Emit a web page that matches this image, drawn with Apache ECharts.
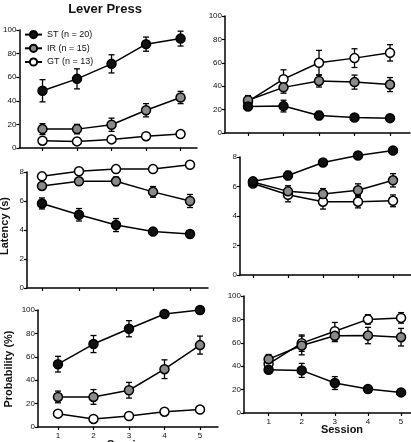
<!DOCTYPE html>
<html><head><meta charset="utf-8">
<script src="https://cdn.jsdelivr.net/npm/echarts@6/dist/echarts.min.js"></script>
<style>html,body{margin:0;padding:0;background:#fff}#c{width:411px;height:442px}</style>
</head><body><div id="c"></div>
<script>
const sessions = [1, 2, 3, 4, 5];
const groupNames = ['ST (n = 20)', 'IR (n = 15)', 'GT (n = 13)'];

// Panel A: Lever Press contacts (top-left)
const lpContactST = [48.5, 58.6, 71.3, 88, 92.7];
const lpContactSTErr = [9.4, 8.5, 7.7, 6, 6.3];
const lpContactIR = [16, 16, 19.7, 32, 42.8];
const lpContactIRErr = [4.6, 4, 5.6, 5.6, 5.2];
const lpContactGT = [6.2, 5.6, 7.3, 10, 11.8];
const lpContactGTErr = [1.5, 1.5, 1.5, 1.5, 1.5];

// Panel B: magazine entries (top-right)
const mgContactST = [22.7, 23, 15, 13.2, 12.7];
const mgContactSTErr = [3, 5, 3.5, 1, 1];
const mgContactIR = [28, 39, 44.5, 43.5, 41.4];
const mgContactIRErr = [4, 5, 5.2, 6, 6];
const mgContactGT = [27, 46, 60, 64, 68.5];
const mgContactGTErr = [3, 8, 10.6, 8, 7];

// Panel C: Latency (s) lever (middle-left)
const lpLatST = [5.83, 5.05, 4.34, 3.89, 3.73];
const lpLatSTErr = [0.38, 0.43, 0.45, 0.2, 0.2];
const lpLatIR = [7.04, 7.36, 7.36, 6.63, 6.0];
const lpLatIRErr = [0.1, 0.2, 0.3, 0.37, 0.45];
const lpLatGT = [7.7, 8.05, 8.2, 8.2, 8.5];
const lpLatGTErr = [0.05, 0.05, 0.05, 0.05, 0.05];

// Panel D: Latency (s) magazine (middle-right)
const mgLatST = [6.35, 6.75, 7.63, 8.1, 8.44];
const mgLatSTErr = [0.2, 0.28, 0.12, 0.08, 0.08];
const mgLatIR = [6.3, 5.67, 5.49, 5.74, 6.42];
const mgLatIRErr = [0.15, 0.38, 0.37, 0.44, 0.45];
const mgLatGT = [6.2, 5.44, 4.97, 4.97, 5.03];
const mgLatGTErr = [0.1, 0.48, 0.5, 0.42, 0.4];

// Panel E: Probability (%) lever (bottom-left)
const lpProbST = [53.7, 70.9, 84, 96.6, 100];
const lpProbSTErr = [6.7, 7.3, 6.9, 1.5, 1.5];
const lpProbIR = [25.7, 25.7, 31.4, 49.4, 70];
const lpProbIRErr = [5, 6.3, 6.7, 8, 7.7];
const lpProbGT = [11.4, 6.9, 9.4, 13.1, 14.9];
const lpProbGTErr = [1.5, 1.5, 1.5, 1.5, 1.5];

// Panel F: Probability (%) magazine (bottom-right)
const mgProbST = [37, 36.4, 25.6, 20.5, 17.6];
const mgProbSTErr = [3, 6, 5.5, 2, 1.5];
const mgProbIR = [46, 57.7, 66, 66.2, 64.8];
const mgProbIRErr = [4, 8, 5, 7, 7.5];
const mgProbGT = [42, 59.7, 69.9, 80, 81.3];
const mgProbGTErr = [3, 7, 7.5, 4, 4.5];

const panels = [
  {grid:{left:13, top:30, width:184, height:118}, xr:[0.329,5.476], yr:[0,100,20], xl:false,
   d:[[lpContactGT,lpContactGTErr],[lpContactIR,lpContactIRErr],[lpContactST,lpContactSTErr]]},
  {grid:{left:225, top:16, width:185, height:117}, xr:[0.352,5.563], yr:[0,100,20], xl:false,
   d:[[mgContactGT,mgContactGTErr],[mgContactIR,mgContactIRErr],[mgContactST,mgContactSTErr]]},
  {grid:{left:27, top:172, width:181, height:116}, xr:[0.595,5.486], yr:[0,8,2], xl:false,
   d:[[lpLatGT,lpLatGTErr],[lpLatIR,lpLatIRErr],[lpLatST,lpLatSTErr]]},
  {grid:{left:240, top:157, width:171, height:118}, xr:[0.629,5.514], yr:[0,8,2], xl:false,
   d:[[mgLatGT,mgLatGTErr],[mgLatIR,mgLatIRErr],[mgLatST,mgLatSTErr]]},
  {grid:{left:38, top:310, width:180, height:117}, xr:[0.437,5.507], yr:[0,100,20], xl:true,
   d:[[lpProbGT,lpProbGTErr],[lpProbIR,lpProbIRErr],[lpProbST,lpProbSTErr]]},
  {grid:{left:244, top:296, width:176, height:117}, xr:[0.257,5.3], yr:[0,100,20], xl:true,
   d:[[mgProbGT,mgProbGTErr],[mgProbIR,mgProbIRErr],[mgProbST,mgProbSTErr]]}
];

// order in d: GT, IR, ST
const styleByIdx = [
  {name: groupNames[2], fill:'#ffffff'},
  {name: groupNames[1], fill:'#8a8a8a'},
  {name: groupNames[0], fill:'#111111'}
];

function errItem(params, api){
  const x = api.value(0), y = api.value(1), e = api.value(2);
  const t = api.coord([x, y + e]), b = api.coord([x, y - e]);
  const w = 3;
  const st = {stroke:'#000', lineWidth:1.3};
  return {type:'group', children:[
    {type:'line', shape:{x1:t[0], y1:t[1], x2:b[0], y2:b[1]}, style:st},
    {type:'line', shape:{x1:t[0]-w, y1:t[1], x2:t[0]+w, y2:t[1]}, style:st},
    {type:'line', shape:{x1:b[0]-w, y1:b[1], x2:b[0]+w, y2:b[1]}, style:st}
  ]};
}

const grids = [], xAxes = [], yAxes = [], series = [];
panels.forEach((p, i) => {
  grids.push(p.grid);
  xAxes.push({
    type:'value', gridIndex:i, min:p.xr[0], max:p.xr[1],
    axisLine:{lineStyle:{color:'#000', width:1.5}},
    axisTick:{show:true, length:3, lineStyle:{color:'#000', width:1.2}, customValues:sessions},
    axisLabel:{show:p.xl, customValues:sessions, fontSize:8, color:'#111', margin:5, fontFamily:'Liberation Sans'},
    splitLine:{show:false}
  });
  yAxes.push({
    type:'value', gridIndex:i, min:p.yr[0], max:p.yr[1], interval:p.yr[2],
    axisLine:{show:true, lineStyle:{color:'#000', width:1.5}},
    axisTick:{show:true, length:3, lineStyle:{color:'#000', width:1.2}},
    axisLabel:{fontSize:8, color:'#111', margin:3, fontFamily:'Liberation Sans'},
    splitLine:{show:false}
  });
  p.d.forEach((pair, k) => {
    const vals = pair[0], errs = pair[1];
    series.push({
      type:'custom', name:'err'+i+'_'+k, xAxisIndex:i, yAxisIndex:i, z:2,
      renderItem: errItem, silent:true,
      data: sessions.map((s, j) => [s, vals[j], errs[j]])
    });
    series.push({
      type:'line', name: styleByIdx[k].name, xAxisIndex:i, yAxisIndex:i, z:3,
      symbol:'circle', symbolSize:9, clip:false,
      lineStyle:{color:'#000', width:1.5},
      itemStyle:{color:styleByIdx[k].fill, borderColor:'#000', borderWidth:1.5},
      data: sessions.map((s, j) => [s, vals[j]])
    });
  });
});

const chart = echarts.init(document.getElementById('c'), null, {renderer:'canvas'});
chart.setOption({
  animation:false,
  backgroundColor:'#fff',
  textStyle:{fontFamily:'Liberation Sans'},
  title:[
    {text:'Lever Press', left:100, top:-2, textAlign:'center',
     textStyle:{fontSize:13, fontWeight:'bold', color:'#111', fontFamily:'Liberation Sans'}}
  ],
  legend:{
    data:[groupNames[0], groupNames[1], groupNames[2]],
    orient:'vertical', left:19, top:25, itemWidth:17, itemHeight:9, itemGap:4.5,
    textStyle:{fontSize:9, color:'#111', fontFamily:'Liberation Sans'},
    selectedMode:false
  },
  graphic:[
    {type:'text', x:-1, y:226, rotation:Math.PI/2, style:{text:'Latency (s)', font:'bold 11px Liberation Sans', fill:'#111', align:'center', verticalAlign:'top'}},
    {type:'text', x:3, y:369, rotation:Math.PI/2, style:{text:'Probability (%)', font:'bold 11px Liberation Sans', fill:'#111', align:'center', verticalAlign:'top'}},
    {type:'text', x:342, y:424, style:{text:'Session', font:'bold 11px Liberation Sans', fill:'#111', align:'center', verticalAlign:'top'}},
    {type:'text', x:128, y:439, style:{text:'Session', font:'bold 11px Liberation Sans', fill:'#111', align:'center', verticalAlign:'top'}}
  ],
  grid:grids, xAxis:xAxes, yAxis:yAxes, series:series
});
</script></body></html>
